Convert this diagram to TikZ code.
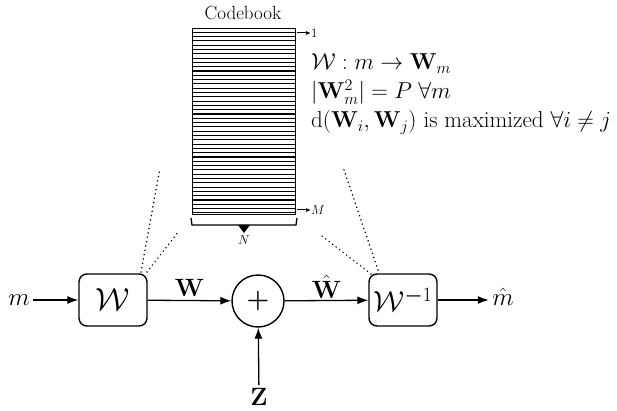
\RequirePackage{fix-cm}
\documentclass[tikz,border=0pt]{standalone}
\usepackage{amsmath,amssymb}
\usepackage{bm}
\usetikzlibrary{arrows.meta}
\begin{document}
\begin{tikzpicture}[x=1pt,y=-1pt,
  conn/.style={line width=1.3pt,-{Latex[length=11pt,width=8pt]}},
  blockbox/.style={draw,line width=1.4pt,rounded corners=8pt,minimum width=68pt,minimum height=52pt,inner sep=0pt},
  sumnode/.style={draw,line width=1.4pt,circle,minimum size=52pt,inner sep=0pt},
  dots/.style={line width=1.7pt,line cap=round,dash pattern=on 0.01pt off 4.4pt},
  small/.style={font=\fontsize{13}{14}\selectfont},
  big/.style={font=\fontsize{25}{27}\selectfont}]
\useasboundingbox (0,0) rectangle (617,411);
% codebook
\node[font=\fontsize{19}{20}\selectfont] (cbt) at (243,13) {Codebook};
\node[draw,line width=1.3pt,minimum width=103pt,minimum height=186pt,inner sep=0pt,anchor=north west] (cb) at (192,28) {};
\foreach \i in {1,...,43}{
  \pgfmathsetmacro{\yy}{28+\i*4.3}
  \pgfmathtruncatemacro{\th}{mod(\i*7,5)==0 ? 1 : 0}
  \ifnum\th=1
    \draw[line width=1.6pt] (192,\yy) -- (295,\yy);
  \else
    \draw[line width=0.8pt] (192,\yy) -- (295,\yy);
  \fi
}
\node[small,anchor=west,inner sep=0pt] (l1) at (311,33) {1};
\node[small,anchor=west,inner sep=0pt] (lM) at (311,210) {$M$};
\coordinate (a1) at (297,33);
\coordinate (aM) at (297,210);
\draw[line width=1pt,-{Latex[length=5pt,width=4pt]}] (a1) -- (l1.west);
\draw[line width=1pt,-{Latex[length=5pt,width=4pt]}] (aM) -- (lM.west);
\draw[line width=1.3pt] (191,218) -- (192,225) -- (296,225) -- (297,218);
\fill (238,225) -- (250,225) -- (244,233) -- cycle;
\node[small] (lN) at (244,240) {$N$};
% math text
\begin{scope}[font=\fontsize{23}{26}\selectfont]
\node[anchor=base west,inner sep=0pt] (t1) at (311,70) {$\mathcal{W}: m \to \mathbf{W}_m$};
\node[anchor=base west,inner sep=0pt] (t2) at (311,99) {$|\mathbf{W}_m^2| = P\;\forall m$};
\node[anchor=base west,inner sep=0pt] (t3) at (311,128) {$\mathrm{d}(\mathbf{W}_i,\mathbf{W}_j)$ is maximized $\forall i\neq j$};
\end{scope}
% block diagram
\node[big] (m) at (19,300) {$m$};
\node[blockbox,font=\fontsize{32}{34}\selectfont] (enc) at (113,300) {$\mathcal{W}$};
\node[sumnode,font=\fontsize{26}{28}\selectfont] (sum) at (258,301) {$\bm{+}$};
\node[blockbox,font=\fontsize{29}{31}\selectfont] (dec) at (403,300) {$\mathcal{W}^{\bm{-}1}$};
\node[big] (mh) at (503,297) {$\hat{m}$};
\node[big] (z) at (259,397) {$\mathbf{Z}$};
\draw[conn] (m.east) -- (enc.west);
\draw[conn] (enc) -- node[big,above=0pt] {$\mathbf{W}$} (sum);
\draw[conn] (sum) -- node[big,above=-2pt] {$\hat{\mathbf{W}}$} (dec);
\draw[conn] (dec.east) -- (mh.west |- dec.east);
\draw[conn] (z) -- (sum);
% dotted lines
\coordinate (p1) at (160,168);
\coordinate (p2) at (179,231);
\coordinate (p3) at (343,167);
\coordinate (p4) at (322,236);
\draw[dots] (141,272) -- (p1);
\draw[dots] (147,272) -- (p2);
\draw[dots] (378,270) -- (p3);
\draw[dots] (371,274) -- (p4);
\end{tikzpicture}
\end{document}
